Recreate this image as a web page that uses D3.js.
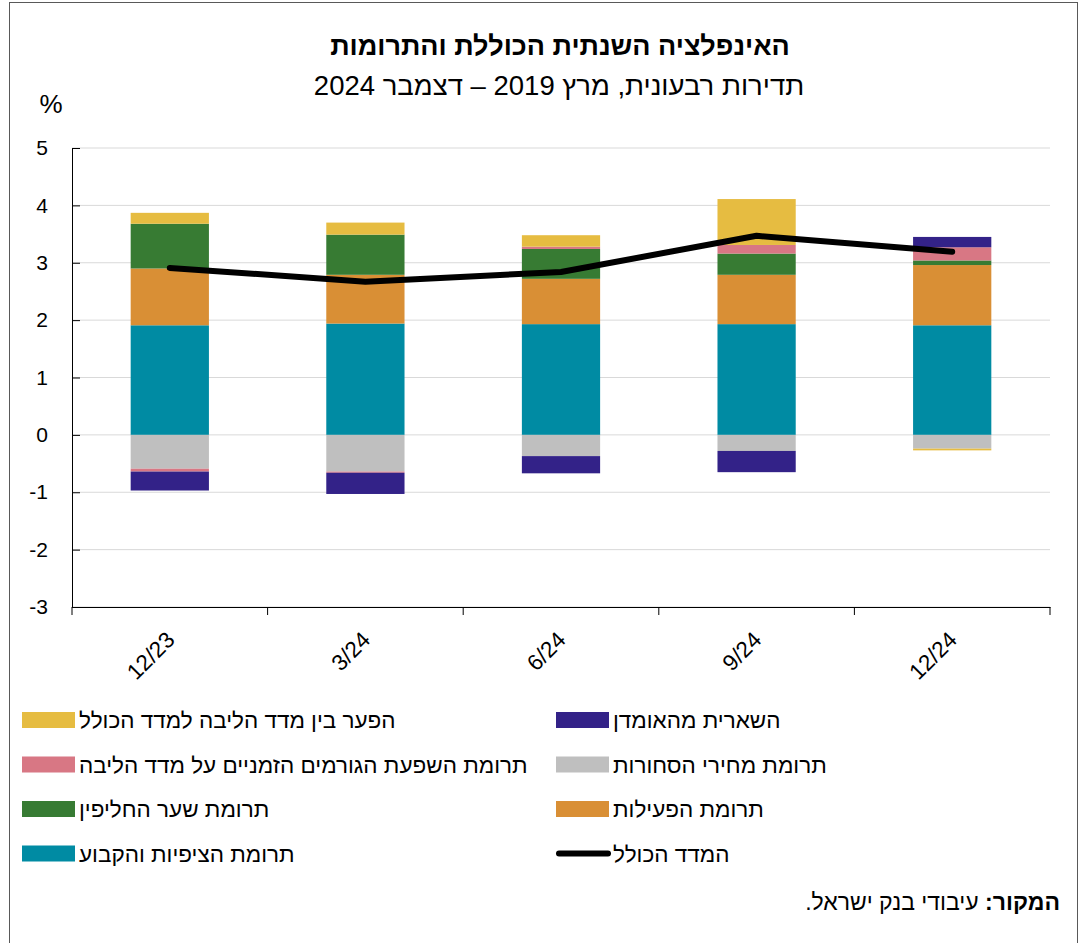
<!DOCTYPE html>
<html>
<head>
<meta charset="utf-8">
<script src="https://cdn.jsdelivr.net/npm/d3@7"></script>
<style>
  body { margin: 0; background: #fff; }
  svg text { font-family: "Liberation Sans", Arial, sans-serif; fill: #000; }
</style>
</head>
<body>
<svg id="chart"></svg>
<script>
// quarters on the x axis
const quarters = ['12/23', '3/24', '6/24', '9/24', '12/24']

// contributions (percentage points)
const expectations = [1.91, 1.94, 1.93, 1.93, 1.91]   // teal
const activity     = [0.99, 0.85, 0.79, 0.86, 1.05]   // orange
const exchange     = [0.78, 0.70, 0.52, 0.37, 0.08]   // green
const commodities  = [-0.59, -0.64, -0.37, -0.28, -0.24] // gray
const temporary    = [-0.05, -0.02, 0.04, 0.15, 0.23] // pink
const coreGap      = [0.19, 0.21, 0.20, 0.80, -0.03]  // yellow
const residual     = [-0.33, -0.37, -0.30, -0.37, 0.18] // purple
const headline     = [2.91, 2.67, 2.84, 3.47, 3.19]   // black line

const yTicks = [-3, -2, -1, 0, 1, 2, 3, 4, 5]

const seriesKeys = ['expectations', 'activity', 'exchange', 'commodities', 'temporary', 'coreGap', 'residual']
const seriesColors = ['#008BA3', '#D98F35', '#377B33', '#BFBFBF', '#D87784', '#E6BC41', '#332288']

const legendLeft = [
    ['coreGap', 'הפער בין מדד הליבה למדד הכולל'],
    ['temporary', 'תרומת השפעת הגורמים הזמניים על מדד הליבה'],
    ['exchange', 'תרומת שער החליפין'],
    ['expectations', 'תרומת הציפיות והקבוע']
]
const legendRight = [
    ['residual', 'השארית מהאומדן'],
    ['commodities', 'תרומת מחירי הסחורות'],
    ['activity', 'תרומת הפעילות'],
    ['line', 'המדד הכולל']
]

let W = 1089, H = 943
let m = {top: 148, left: 72, right: 39, bottom: 336}

let table = quarters.map(function(q, i) {
    return {
        quarter: q,
        expectations: expectations[i],
        activity: activity[i],
        exchange: exchange[i],
        commodities: commodities[i],
        temporary: temporary[i],
        coreGap: coreGap[i],
        residual: residual[i],
        headline: headline[i]
    }
})

let colorScale = d3.scaleOrdinal(seriesKeys, seriesColors)

let svg = d3.select('#chart')
    .attr('width', W)
    .attr('height', H)

// outer frame (bottom edge is cut off in the original)
svg.append('rect')
    .attr('x', 9.5).attr('y', 2.5)
    .attr('width', 1068).attr('height', H + 10)
    .attr('fill', 'white')
    .attr('stroke', '#595959')

let xScale = d3.scaleBand().domain(quarters)
    .range([m.left, W - m.right])
    .paddingInner(0.6).paddingOuter(0.3)

let xBand = d3.scaleBand().domain(quarters)
    .range([m.left, W - m.right])

let yScale = d3.scaleLinear().domain([-3, 5])
    .range([607, 148])

// gridlines
svg.append('g')
    .selectAll('line')
    .data(yTicks)
    .enter().append('line')
    .attr('x1', m.left).attr('x2', W - m.right)
    .attr('y1', d => yScale(d)).attr('y2', d => yScale(d))
    .attr('stroke', '#d9d9d9')
    .attr('stroke-width', 1)

// stacked bars
let stack = d3.stack().keys(seriesKeys).offset(d3.stackOffsetDiverging)
let stacked = stack(table)

svg.append('g')
    .selectAll('g')
    .data(stacked)
    .enter().append('g')
    .attr('fill', d => colorScale(d.key))
    .selectAll('rect')
    .data(d => d)
    .enter().append('rect')
    .attr('x', d => xScale(d.data.quarter))
    .attr('width', xScale.bandwidth())
    .attr('y', d => yScale(Math.max(d[0], d[1])))
    .attr('height', d => Math.abs(yScale(d[0]) - yScale(d[1])))

// y axis, ticks point inwards
let yAxis = d3.axisLeft(yScale).tickValues(yTicks)
    .tickSize(-8).tickPadding(24)
    .tickFormat(d => String(d))
svg.append('g')
    .attr('transform', `translate(${m.left},0)`)
    .call(yAxis)
    .call(g => g.select('.domain').attr('stroke', '#000'))
    .call(g => g.selectAll('.tick line').attr('stroke', '#000'))
    .call(g => g.selectAll('.tick text')
        .style('font-size', '21px')
        .attr('font-family', '"Liberation Sans", Arial, sans-serif'))

// x axis at the bottom of the plot
let xAxis = d3.axisBottom(xBand).tickSize(0).tickFormat('')
svg.append('g')
    .attr('transform', `translate(0,${yScale(-3)})`)
    .call(xAxis)
    .call(g => g.select('.domain').attr('stroke', '#000'))

// category boundary ticks
let bounds = quarters.map(q => xBand(q)).concat([W - m.right])
svg.append('g')
    .selectAll('line')
    .data(bounds)
    .enter().append('line')
    .attr('x1', d => d).attr('x2', d => d)
    .attr('y1', yScale(-3)).attr('y2', yScale(-3) + 8)
    .attr('stroke', '#000')

// rotated category labels
svg.append('g')
    .selectAll('text')
    .data(quarters)
    .enter().append('text')
    .attr('transform', d => `translate(${xScale(d) + xScale.bandwidth() / 2 + 2},${yScale(-3) + 30}) rotate(-45)`)
    .attr('text-anchor', 'end')
    .attr('dominant-baseline', 'middle')
    .style('font-size', '22.5px')
    .text(d => d)

// headline inflation line
let line = d3.line()
    .x(d => xScale(d.quarter) + xScale.bandwidth() / 2)
    .y(d => yScale(d.headline))

svg.append('path')
    .datum(table)
    .attr('d', line)
    .attr('fill', 'none')
    .attr('stroke', '#000')
    .attr('stroke-width', 6)
    .attr('stroke-linecap', 'round')
    .attr('stroke-linejoin', 'round')

// titles
svg.append('text')
    .attr('x', 560).attr('y', 55)
    .attr('text-anchor', 'middle')
    .attr('direction', 'rtl')
    .style('font-size', '27px')
    .style('font-weight', 'bold')
    .text('האינפלציה השנתית הכוללת והתרומות')

svg.append('text')
    .attr('x', 559).attr('y', 95)
    .attr('text-anchor', 'middle')
    .attr('direction', 'rtl')
    .style('font-size', '27.5px')
    .text('תדירות רבעונית, מרץ 2019 – דצמבר 2024')

svg.append('text')
    .attr('x', 51).attr('y', 113)
    .attr('text-anchor', 'middle')
    .style('font-size', '26px')
    .text('%')

// legend
function drawLegend(items, x) {
    let g = svg.append('g')
    items.forEach(function(item, i) {
        let y = 720 + i * 44.5
        if (item[0] == 'line') {
            g.append('line')
                .attr('x1', x + 3).attr('x2', x + 52)
                .attr('y1', y).attr('y2', y)
                .attr('stroke', '#000')
                .attr('stroke-width', 6)
                .attr('stroke-linecap', 'round')
        } else {
            g.append('rect')
                .attr('x', x).attr('y', y - 8)
                .attr('width', 53).attr('height', 16)
                .attr('fill', colorScale(item[0]))
        }
        g.append('text')
            .attr('x', x + 57).attr('y', y + 8)
            .attr('direction', 'rtl')
            .attr('text-anchor', 'end')
            .style('font-size', '22.5px')
            .text(item[1])
    })
}
drawLegend(legendLeft, 22)
drawLegend(legendRight, 556)

// source note
let src = svg.append('text')
    .attr('x', 1060).attr('y', 910)
    .attr('direction', 'rtl')
    .attr('text-anchor', 'start')
    .style('font-size', '23px')
src.append('tspan').style('font-weight', 'bold').text('המקור:')
src.append('tspan').text(' עיבודי בנק ישראל.')
</script>
</body>
</html>
